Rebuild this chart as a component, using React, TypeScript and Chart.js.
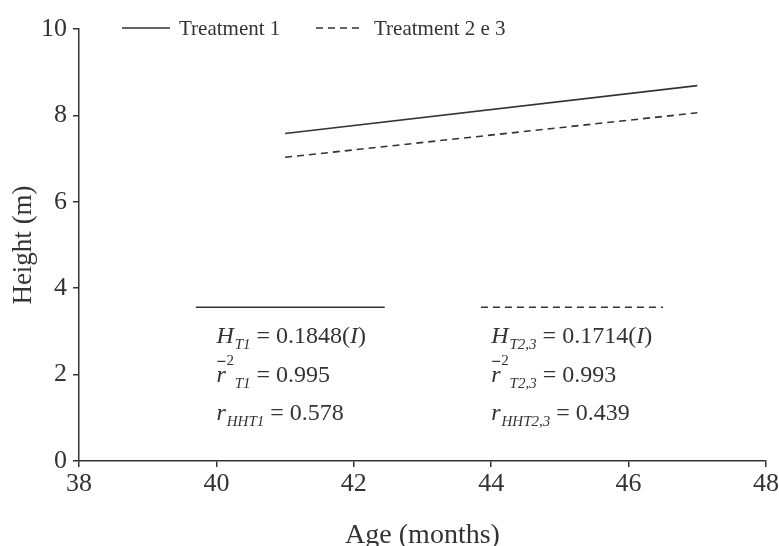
import React, { useEffect, useRef } from "react";
import { Chart, registerables } from "chart.js";

Chart.register(...registerables);

// ---- data ----
const ageT1: number[] = [41, 47];
const heightT1: number[] = [7.58, 8.69];
const ageT23: number[] = [41, 47];
const heightT23: number[] = [7.03, 8.06];

const xTicks: number[] = [38, 40, 42, 44, 46, 48];
const yTicks: number[] = [0, 2, 4, 6, 8, 10];

const legendLabels: string[] = ["Treatment 1", "Treatment 2 e 3"];
const xTitle = "Age (months)";
const yTitle = "Height (m)";

// equation blocks (data-space anchors)
const eqCoef: string[] = ["0.1848", "0.1714"];
const eqR2: string[] = ["0.995", "0.993"];
const eqRHH: string[] = ["0.578", "0.439"];
const eqSub: string[] = ["T1", "T2,3"];
const eqAnchorX: number[] = [40, 44];
const eqRowY: number[] = [2.72, 1.82, 0.96];
const eqRuleX: [number, number][] = [
  [39.7, 42.45],
  [43.85, 46.5],
];
const eqRuleY = 3.56;

const INK = "#333";
const SERIF = "'Liberation Serif', 'DejaVu Serif', serif";

type Seg = { t: string; italic?: boolean; size: number; dy?: number; dx?: number };

function drawSegs(ctx: CanvasRenderingContext2D, x: number, y: number, segs: Seg[]) {
  let cx = x;
  for (const s of segs) {
    ctx.font = `${s.italic ? "italic " : ""}${s.size}px ${SERIF}`;
    cx += s.dx || 0;
    ctx.fillText(s.t, cx, y + (s.dy || 0));
    cx += ctx.measureText(s.t).width;
  }
  return cx;
}

const overlayPlugin = {
  id: "overlay",
  afterDraw(chart: any) {
    const ctx: CanvasRenderingContext2D = chart.ctx;
    const xs = chart.scales.x;
    const ys = chart.scales.y;
    ctx.save();
    ctx.fillStyle = INK;
    ctx.strokeStyle = INK;

    // legend
    ctx.lineWidth = 1.5;
    ctx.textBaseline = "middle";
    ctx.textAlign = "left";
    ctx.font = `21px ${SERIF}`;
    const ly = 28;
    ctx.setLineDash([]);
    ctx.beginPath();
    ctx.moveTo(122, ly);
    ctx.lineTo(170, ly);
    ctx.stroke();
    ctx.fillText(legendLabels[0], 179, ly + 1);
    ctx.setLineDash([7, 5]);
    ctx.beginPath();
    ctx.moveTo(316, ly);
    ctx.lineTo(362, ly);
    ctx.stroke();
    ctx.setLineDash([]);
    ctx.fillText(legendLabels[1], 374, ly + 1);

    // equation blocks
    ctx.textBaseline = "alphabetic";
    const M = 24;
    const S = 15;
    for (let i = 0; i < 2; i++) {
      // rule
      const ry = ys.getPixelForValue(eqRuleY);
      ctx.lineWidth = 1.5;
      ctx.setLineDash(i === 0 ? [] : [7, 5]);
      ctx.beginPath();
      ctx.moveTo(xs.getPixelForValue(eqRuleX[i][0]), ry);
      ctx.lineTo(xs.getPixelForValue(eqRuleX[i][1]), ry);
      ctx.stroke();
      ctx.setLineDash([]);

      const x0 = xs.getPixelForValue(eqAnchorX[i]);
      const y1 = ys.getPixelForValue(eqRowY[0]);
      const y2 = ys.getPixelForValue(eqRowY[1]);
      const y3 = ys.getPixelForValue(eqRowY[2]);

      // H_T = coef(I)
      drawSegs(ctx, x0, y1, [
        { t: "H", italic: true, size: M },
        { t: eqSub[i], italic: true, size: S, dy: 6, dx: 1 },
        { t: " = " + eqCoef[i] + "(", size: M },
        { t: "I", italic: true, size: M },
        { t: ")", size: M },
      ]);

      // r-bar^2 _T = r2
      ctx.font = `italic ${M}px ${SERIF}`;
      const rw = ctx.measureText("r").width;
      ctx.fillText("r", x0, y2);
      ctx.lineWidth = 1.2;
      ctx.beginPath();
      ctx.moveTo(x0 + 1, y2 - 21);
      ctx.lineTo(x0 + 9, y2 - 21);
      ctx.stroke();
      ctx.font = `${S}px ${SERIF}`;
      ctx.fillText("2", x0 + 10, y2 - 17);
      drawSegs(ctx, x0 + rw + 9, y2, [
        { t: eqSub[i], italic: true, size: S, dy: 6 },
        { t: " = " + eqR2[i], size: M },
      ]);

      // r_HHT = rhh
      drawSegs(ctx, x0, y3, [
        { t: "r", italic: true, size: M },
        { t: "HH" + eqSub[i], italic: true, size: S, dy: 6, dx: 1 },
        { t: " = " + eqRHH[i], size: M },
      ]);
    }
    ctx.restore();
  },
};

export default function App() {
  const ref = useRef<HTMLCanvasElement | null>(null);

  useEffect(() => {
    if (!ref.current) return;
    const chart = new Chart(ref.current, {
      type: "scatter",
      data: {
        datasets: [
          {
            label: legendLabels[0],
            data: ageT1.map((a, i) => ({ x: a, y: heightT1[i] })),
            showLine: true,
            borderColor: INK,
            borderWidth: 1.6,
            pointRadius: 0,
            fill: false,
          },
          {
            label: legendLabels[1],
            data: ageT23.map((a, i) => ({ x: a, y: heightT23[i] })),
            showLine: true,
            borderColor: INK,
            borderWidth: 1.6,
            borderDash: [7, 5],
            pointRadius: 0,
            fill: false,
          },
        ],
      },
      options: {
        animation: false,
        responsive: true,
        maintainAspectRatio: false,
        layout: { padding: { top: 29, right: 0, left: 0, bottom: 0 } },
        plugins: {
          legend: { display: false },
          tooltip: { enabled: false },
        },
        scales: {
          x: {
            type: "linear",
            min: xTicks[0],
            max: xTicks[xTicks.length - 1],
            afterBuildTicks: (s: any) => {
              s.ticks = xTicks.map((v) => ({ value: v }));
            },
            afterFit: (s: any) => {
              s.height = 85;
            },
            ticks: {
              color: INK,
              padding: 2,
              font: { family: SERIF, size: 26 },
            },
            grid: {
              drawOnChartArea: false,
              drawTicks: true,
              tickLength: 6,
              color: INK,
              lineWidth: 1.5,
            },
            border: { display: true, color: INK, width: 1.5 },
            title: {
              display: true,
              text: xTitle,
              color: INK,
              font: { family: SERIF, size: 28, lineHeight: 1 },
              padding: { top: 0, bottom: -4 },
            },
          },
          y: {
            type: "linear",
            min: yTicks[0],
            max: yTicks[yTicks.length - 1],
            afterBuildTicks: (s: any) => {
              s.ticks = yTicks.map((v) => ({ value: v }));
            },
            afterFit: (s: any) => {
              s.width = 79;
            },
            ticks: {
              color: INK,
              padding: 6,
              font: { family: SERIF, size: 26 },
            },
            grid: {
              drawOnChartArea: false,
              drawTicks: true,
              tickLength: 6,
              color: INK,
              lineWidth: 1.5,
            },
            border: { display: true, color: INK, width: 1.5 },
            title: {
              display: true,
              text: yTitle,
              color: INK,
              font: { family: SERIF, size: 27, lineHeight: 1 },
              padding: { top: 10, bottom: 0 },
            },
          },
        },
      },
      plugins: [overlayPlugin],
    } as any);
    return () => chart.destroy();
  }, []);

  return (
    <div
      style={{
        position: "absolute",
        left: 0,
        top: 0,
        width: 779,
        height: 546,
        overflow: "hidden",
        background: "#fff",
      }}
    >
      <div style={{ position: "relative", width: 781, height: 546 }}>
        <canvas ref={ref} />
      </div>
    </div>
  );
}
